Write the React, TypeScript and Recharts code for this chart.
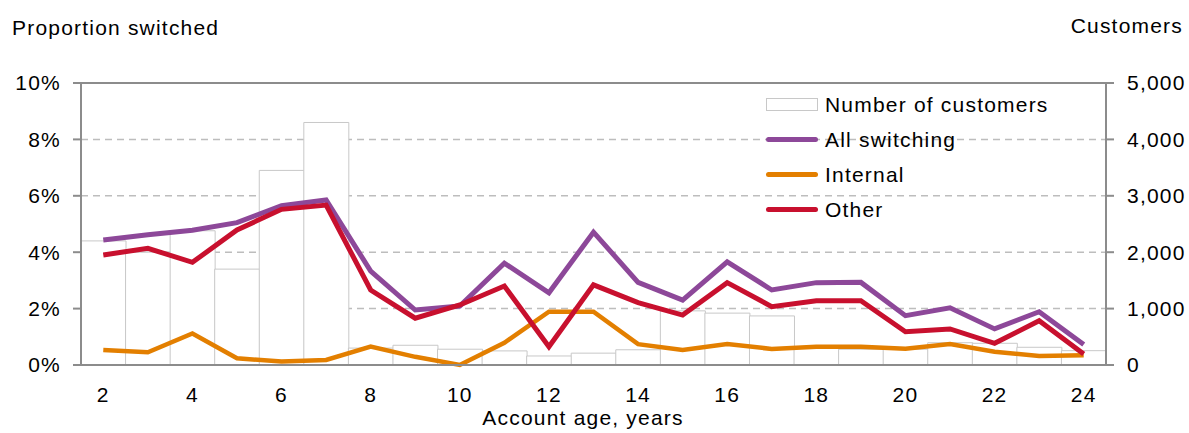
import { Bar, CartesianGrid, ComposedChart, Line, ReferenceLine, XAxis, YAxis } from "recharts"

const ages = [2, 3, 4, 5, 6, 7, 8, 9, 10, 11, 12, 13, 14, 15, 16, 17, 18, 19, 20, 21, 22, 23, 24]
const customers = [2200, 2000, 2380, 1700, 3450, 4300, 300, 350, 280, 250, 160, 210, 270, 960, 920, 870, 300, 280, 280, 395, 385, 314, 254]
const allSwitching = [4.43, 4.62, 4.78, 5.05, 5.65, 5.85, 3.33, 1.95, 2.09, 3.61, 2.56, 4.71, 2.93, 2.3, 3.66, 2.66, 2.92, 2.93, 1.75, 2.03, 1.28, 1.89, 0.73]
const internal = [0.53, 0.45, 1.12, 0.24, 0.12, 0.18, 0.65, 0.29, 0.0, 0.79, 1.89, 1.89, 0.74, 0.53, 0.74, 0.57, 0.65, 0.65, 0.58, 0.74, 0.47, 0.32, 0.35]
const other = [3.9, 4.14, 3.64, 4.79, 5.52, 5.67, 2.66, 1.66, 2.13, 2.8, 0.65, 2.84, 2.21, 1.77, 2.92, 2.07, 2.28, 2.28, 1.18, 1.28, 0.77, 1.57, 0.39]
const pctTicks = [0, 2, 4, 6, 8, 10]
const custTicks = [0, 1000, 2000, 3000, 4000, 5000]

const data = ages.map((age, i) => ({
    age,
    customers: customers[i],
    all: allSwitching[i],
    internal: internal[i],
    other: other[i],
}))

const font = "'Liberation Sans', Arial, sans-serif"
const axisGrey = "#8c8c8c"
const tickStyle = { fontSize: 21, fill: "#000", fontFamily: font, letterSpacing: 1.2 }
const textStyle = { position: "absolute" as const, fontSize: 21, lineHeight: "21px", letterSpacing: 1.2, whiteSpace: "nowrap" as const }

const legendItems = [
    { name: "Number of customers", kind: "box", color: "#c8c8c8" },
    { name: "All switching", kind: "line", color: "#8d4899" },
    { name: "Internal", kind: "line", color: "#e37f00" },
    { name: "Other", kind: "line", color: "#c8102e" },
]

export default function App() {
    return <div style={{ position: "absolute", left: 0, top: 0, width: 1189, height: 433, fontFamily: font }}>
        <ComposedChart width={1189} height={433} data={data} barCategoryGap={0} margin={{ top: 83, right: 0, bottom: 0, left: 0 }}>
            <CartesianGrid yAxisId="left" vertical={false} stroke="#bdbdbd" strokeWidth={1.5} strokeDasharray="7 5" />
            <XAxis dataKey="age" interval={1} height={68} tickSize={0} tickMargin={22} tick={tickStyle}
                axisLine={{ stroke: axisGrey, strokeWidth: 2 }} />
            <YAxis yAxisId="left" domain={[0, 10]} ticks={pctTicks} width={81} tickSize={8} tickMargin={12}
                tickFormatter={(v: number) => `${v}%`} tick={tickStyle}
                axisLine={{ stroke: axisGrey, strokeWidth: 2 }} tickLine={{ stroke: axisGrey, strokeWidth: 2 }} />
            <YAxis yAxisId="right" orientation="right" domain={[0, 5000]} ticks={custTicks} width={83} tickSize={8} tickMargin={13}
                tickFormatter={(v: number) => v.toLocaleString("en-US")} tick={{ ...tickStyle, textAnchor: "start" }}
                axisLine={{ stroke: axisGrey, strokeWidth: 2 }} tickLine={{ stroke: axisGrey, strokeWidth: 2 }} />
            <Bar yAxisId="right" dataKey="customers" name="Number of customers" fill="#fff" stroke="#c8c8c8" strokeWidth={1} isAnimationActive={false} />
            <ReferenceLine yAxisId="left" y={10} stroke={axisGrey} strokeWidth={2} />
            <Line yAxisId="left" dataKey="internal" name="Internal" stroke="#e37f00" strokeWidth={4.5} dot={false} isAnimationActive={false} />
            <Line yAxisId="left" dataKey="all" name="All switching" stroke="#8d4899" strokeWidth={5} dot={false} isAnimationActive={false} />
            <Line yAxisId="left" dataKey="other" name="Other" stroke="#c8102e" strokeWidth={5} dot={false} isAnimationActive={false} />
        </ComposedChart>
        <div style={{ position: "absolute", left: 766, top: 87, fontSize: 21, letterSpacing: 1.2 }}>
            {legendItems.map(item => (
                <div key={item.name} style={{ display: "flex", alignItems: "center", height: 35 }}>
                    {item.kind === "box"
                        ? <div style={{ width: 50, height: 11, border: `1px solid ${item.color}`, background: "#fff" }} />
                        : <div style={{ width: 52, height: 5, borderRadius: 3, background: item.color }} />}
                    <span style={{ marginLeft: 7, color: "#000" }}>{item.name}</span>
                </div>
            ))}
        </div>
        <div style={{ ...textStyle, left: 12, top: 17 }}>Proportion switched</div>
        <div style={{ ...textStyle, right: 6, top: 15 }}>Customers</div>
        <div style={{ ...textStyle, left: 383, width: 400, textAlign: "center", top: 407 }}>Account age, years</div>
    </div>
}
